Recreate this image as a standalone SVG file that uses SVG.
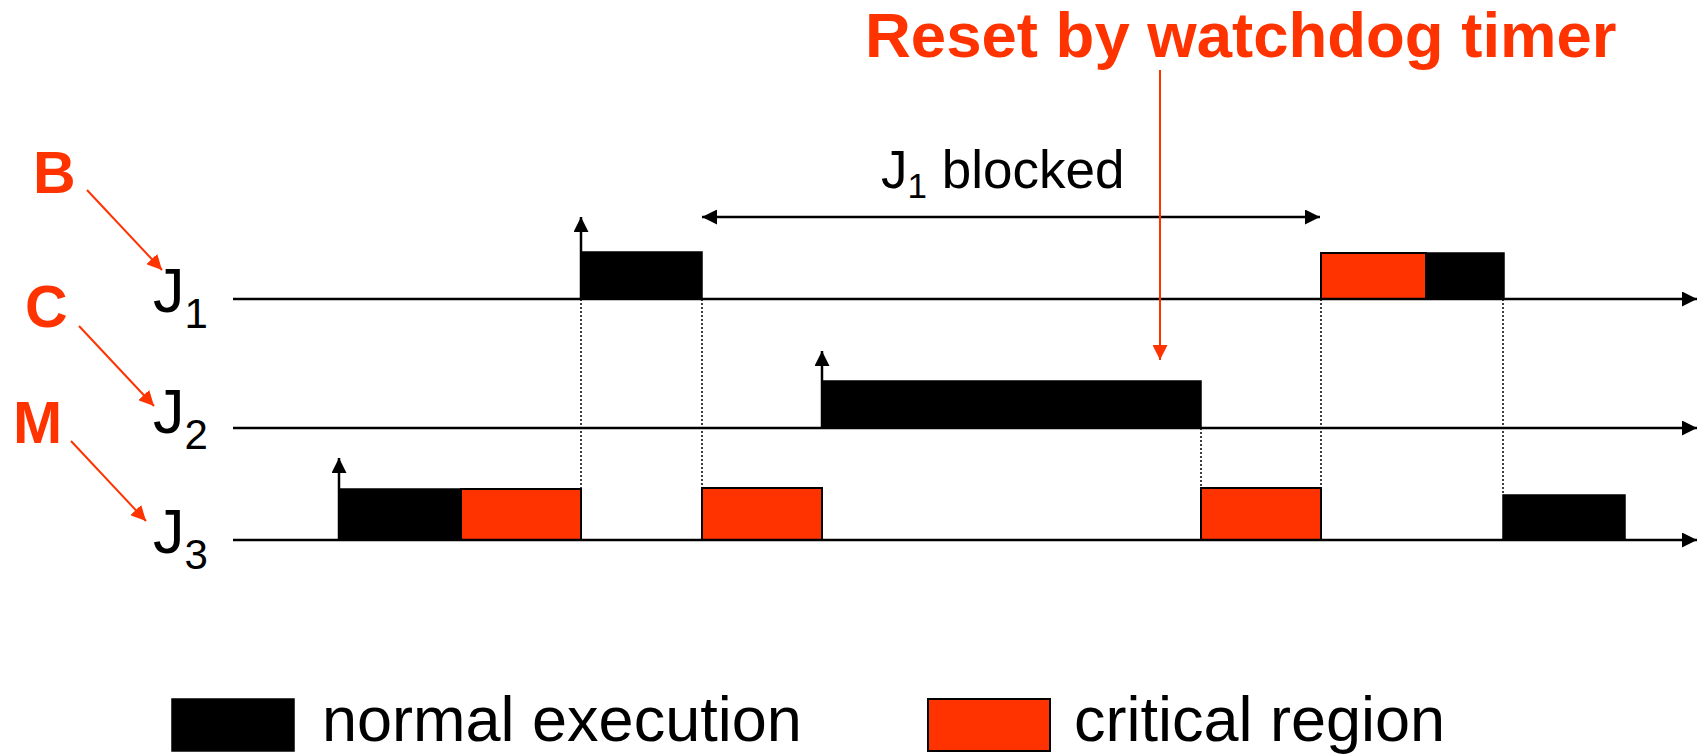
<svg xmlns="http://www.w3.org/2000/svg" width="1700" height="755" viewBox="0 0 1700 755">
<style>
.red{fill:#FF3300}
.lbl{font-family:"Liberation Sans",Arial,sans-serif;font-weight:bold;fill:#FF3300}
.txt{font-family:"Liberation Sans",Arial,sans-serif;fill:#000}
.ax{stroke:#000;stroke-width:2.5;fill:none}
.blk{fill:#000;stroke:#000;stroke-width:1.5}
.crit{fill:#FF3300;stroke:#000;stroke-width:2}
.dot{stroke:#000;stroke-width:1.5;stroke-dasharray:2,2;fill:none}
.rarr{stroke:#FF3300;stroke-width:2;fill:none}
.barr{stroke:#000;stroke-width:2.5;fill:none}
</style>
<defs>
<marker id="ah" viewBox="0 0 15 15" refX="15" refY="7.5" markerWidth="15" markerHeight="15" markerUnits="userSpaceOnUse" orient="auto-start-reverse"><path d="M0,0 L15,7.5 L0,15 z" fill="#000"/></marker>
<marker id="rh" viewBox="0 0 15 15" refX="15" refY="7.5" markerWidth="15" markerHeight="15" markerUnits="userSpaceOnUse" orient="auto"><path d="M0,0 L15,7.5 L0,15 z" fill="#FF3300"/></marker>
</defs>
<rect width="1700" height="755" fill="#fff"/>

<g id="title"><text class="lbl" x="865" y="57" font-size="63.5">Reset by watchdog timer</text></g>

<g id="labels">
<text class="lbl" x="33" y="193" font-size="59">B</text>
<text class="lbl" x="25" y="327" font-size="59">C</text>
<text class="lbl" x="13" y="443" font-size="59">M</text>
<text class="txt" x="153" y="312" font-size="63">J<tspan font-size="42" dy="16">1</tspan></text>
<text class="txt" x="153" y="433" font-size="63">J<tspan font-size="42" dy="16">2</tspan></text>
<text class="txt" x="153" y="553" font-size="63">J<tspan font-size="42" dy="16">3</tspan></text>
<text class="txt" x="881" y="188" font-size="53">J<tspan font-size="35" dy="10">1</tspan><tspan dy="-10"> blocked</tspan></text>
</g>

<g id="blocks">
<rect id="j1a" class="blk" x="581" y="252" width="121" height="47"/>
<rect id="j1b" class="crit" x="1321" y="253" width="105" height="46"/>
<rect id="j1c" class="blk" x="1426" y="253" width="78" height="46"/>
<rect id="j2a" class="blk" x="822" y="381" width="379" height="47"/>
<rect id="j3a" class="blk" x="339" y="489" width="122" height="51"/>
<rect id="j3b" class="crit" x="461" y="489" width="120" height="51"/>
<rect id="j3c" class="crit" x="702" y="488" width="120" height="52"/>
<rect id="j3d" class="crit" x="1201" y="488" width="120" height="52"/>
<rect id="j3e" class="blk" x="1503" y="495" width="122" height="45"/>
</g>

<g id="connectors">
<line class="ax" x1="233" y1="299" x2="1697" y2="299" marker-end="url(#ah)"/>
<line class="ax" x1="233" y1="428" x2="1697" y2="428" marker-end="url(#ah)"/>
<line class="ax" x1="233" y1="540" x2="1697" y2="540" marker-end="url(#ah)"/>
<line class="dot" x1="581" y1="299" x2="581" y2="489"/>
<line class="dot" x1="702" y1="299" x2="702" y2="488"/>
<line class="dot" x1="1201" y1="428" x2="1201" y2="488"/>
<line class="dot" x1="1321" y1="299" x2="1321" y2="488"/>
<line class="dot" x1="1503" y1="299" x2="1503" y2="495"/>
<line class="barr" x1="581" y1="299" x2="581" y2="217" marker-end="url(#ah)"/>
<line class="barr" x1="822" y1="428" x2="822" y2="351" marker-end="url(#ah)"/>
<line class="barr" x1="339" y1="540" x2="339" y2="458" marker-end="url(#ah)"/>
<line class="barr" x1="702" y1="217" x2="1320" y2="217" marker-start="url(#ah)" marker-end="url(#ah)"/>
<line class="rarr" x1="1160" y1="70" x2="1160" y2="360" marker-end="url(#rh)"/>
<line class="rarr" x1="87" y1="190" x2="162" y2="270" marker-end="url(#rh)"/>
<line class="rarr" x1="79" y1="326" x2="154" y2="406" marker-end="url(#rh)"/>
<line class="rarr" x1="71" y1="441" x2="146" y2="521" marker-end="url(#rh)"/>
</g>

<g id="legend">
<rect class="blk" x="172" y="699" width="122" height="52"/>
<text class="txt" x="322" y="741" font-size="63">normal execution</text>
<rect class="crit" x="928" y="699" width="122" height="52"/>
<text class="txt" x="1074" y="741" font-size="63">critical region</text>
</g>
</svg>
